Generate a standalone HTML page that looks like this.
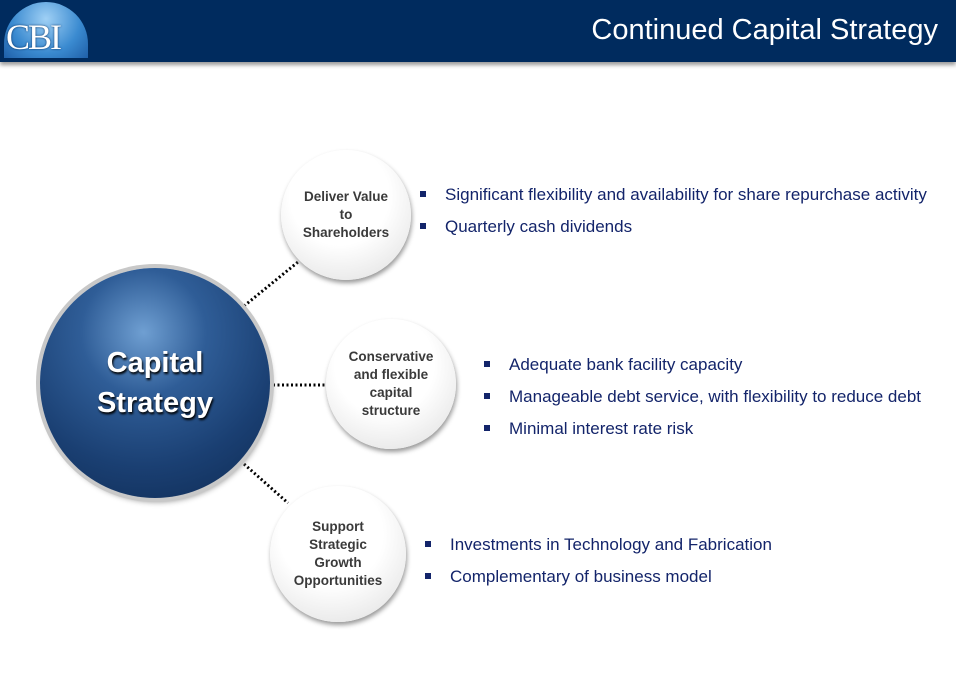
<!DOCTYPE html>
<html><head><meta charset="utf-8"><style>
body{margin:0;width:956px;height:695px;background:#fff;position:relative;overflow:hidden;font-family:"Liberation Sans",sans-serif}
.hdr{position:absolute;left:0;top:0;width:956px;height:62px;background:#002b5e;box-shadow:0 3px 4px #999}
.title{position:absolute;right:18px;top:14px;color:#fff;font-size:29px}
.logo{position:absolute;left:4px;top:2px;width:84px;height:56px;border-radius:42px 42px 0 0;background:radial-gradient(circle at 50% 30%,#9fd0f5,#3a8ad0 60%,#1f5fa8)}
.logo span{position:absolute;left:2px;top:14px;font-family:"Liberation Serif",serif;font-size:36px;color:#fff;letter-spacing:-2px;text-shadow:0 0 2px #002b5e}
.c{position:absolute;border-radius:50%;display:flex;align-items:center;justify-content:center;text-align:center}
.big{left:40px;top:268px;width:230px;height:230px;background:radial-gradient(circle at 45% 28%,#6f9fd2 0%,#2f5d97 30%,#1a3f72 65%,#0e2a52 100%);box-shadow:0 0 0 4px #c8c8c8,2px 4px 6px #999;color:#fff;font-weight:bold;font-size:29px;line-height:40px;text-shadow:1px 2px 2px #000}
.sm{width:130px;height:130px;background:radial-gradient(circle at 45% 35%,#fff 45%,#ececec 75%,#cfcfcf 100%);box-shadow:1px 3px 5px #999;color:#3a3a3a;font-weight:bold;font-size:13.5px;line-height:18px}
ul{position:absolute;margin:0;padding:0;list-style:none;color:#13246a;font-size:17px}
li{position:relative;padding-left:25px;height:32px;line-height:20px}
li:before{content:"";position:absolute;left:0;top:6px;width:6px;height:6px;background:#13246a}
</style></head><body>
<div class="hdr"><div class="logo"><span>CBI</span></div><div class="title">Continued Capital Strategy</div></div>
<svg width="956" height="695" style="position:absolute;left:0;top:0">
<g stroke="#000" stroke-width="3" stroke-dasharray="2 2.5">
<line x1="244" y1="306" x2="298" y2="262"/>
<line x1="273" y1="385" x2="325" y2="385"/>
<line x1="244" y1="464" x2="288" y2="503"/>
</g></svg>
<div class="c big">Capital<br>Strategy</div>
<div class="c sm" style="left:281px;top:150px">Deliver Value<br>to<br>Shareholders</div>
<div class="c sm" style="left:326px;top:319px">Conservative<br>and flexible<br>capital<br>structure</div>
<div class="c sm" style="left:270px;top:486px;width:136px;height:136px">Support<br>Strategic<br>Growth<br>Opportunities</div>
<ul style="left:420px;top:185px"><li>Significant flexibility and availability for share repurchase activity</li><li>Quarterly cash dividends</li></ul>
<ul style="left:484px;top:355px"><li>Adequate bank facility capacity</li><li>Manageable debt service, with flexibility to reduce debt</li><li>Minimal interest rate risk</li></ul>
<ul style="left:425px;top:535px"><li>Investments in Technology and Fabrication</li><li>Complementary of business model</li></ul>
</body></html>
